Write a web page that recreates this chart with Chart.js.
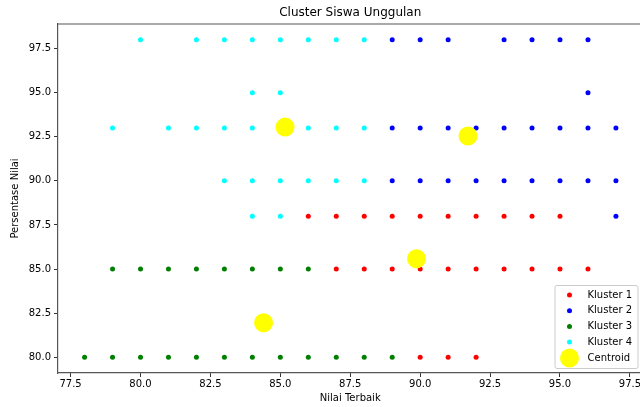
<!DOCTYPE html>
<html lang="en">
  <head>
    <meta charset="UTF-8" />
    <title>Cluster Siswa Unggulan</title>
    <script src="https://cdn.jsdelivr.net/npm/chart.js"></script>
    <style>
      body {
        margin: 0;
        padding: 0;
        background: white;
        overflow: hidden;
      }
      #chart {
        display: block;
      }
    </style>
  </head>
  <body>
    <!-- a bit wider than the window: the right spine falls just off the picture -->
    <canvas id="chart" width="652" height="407"></canvas>

    <script>
      // Kluster 1 (red)
      const k1X = [86, 87, 88, 89, 90, 91, 92, 93, 94, 95, 87, 88, 89, 90, 91, 92, 93, 94, 95, 96, 90, 91, 92];
      const k1Y = [88, 88, 88, 88, 88, 88, 88, 88, 88, 88, 85, 85, 85, 85, 85, 85, 85, 85, 85, 85, 80, 80, 80];

      // Kluster 2 (blue)
      const k2X = [89, 90, 91, 93, 94, 95, 96, 96, 89, 90, 91, 92, 93, 94, 95, 96, 97, 89, 90, 91, 92, 93, 94, 95, 96, 97, 97];
      const k2Y = [98, 98, 98, 98, 98, 98, 98, 95, 93, 93, 93, 93, 93, 93, 93, 93, 93, 90, 90, 90, 90, 90, 90, 90, 90, 90, 88];

      // Kluster 3 (green)
      const k3X = [79, 80, 81, 82, 83, 84, 85, 86, 78, 79, 80, 81, 82, 83, 84, 85, 86, 87, 88, 89];
      const k3Y = [85, 85, 85, 85, 85, 85, 85, 85, 80, 80, 80, 80, 80, 80, 80, 80, 80, 80, 80, 80];

      // Kluster 4 (cyan)
      const k4X = [80, 82, 83, 84, 85, 86, 87, 88, 84, 85, 79, 81, 82, 83, 84, 85, 86, 87, 88, 83, 84, 85, 86, 87, 88, 84, 85];
      const k4Y = [98, 98, 98, 98, 98, 98, 98, 98, 95, 95, 93, 93, 93, 93, 93, 93, 93, 93, 93, 90, 90, 90, 90, 90, 90, 88, 88];

      // centroids
      const centX = [85.17, 91.71, 89.87, 84.4];
      const centY = [93.05, 92.55, 85.58, 81.95];

      const xTicks = [77.5, 80, 82.5, 85, 87.5, 90, 92.5, 95, 97.5];
      const yTicks = [80, 82.5, 85, 87.5, 90, 92.5, 95, 97.5];

      const FONT = "'DejaVu Sans', sans-serif";

      function pts(xs, ys) {
        return xs.map((x, i) => ({ x: x, y: ys[i] }));
      }

      function series(label, xs, ys, color, r, order) {
        return {
          label: label,
          data: pts(xs, ys),
          backgroundColor: color,
          borderColor: color,
          borderWidth: 0,
          pointRadius: r,
          pointHoverRadius: r,
          order: order,
        };
      }

      // top / right spines (chart.js only draws the axis borders)
      const frame = {
        id: "frame",
        afterDraw(chart) {
          const { ctx, chartArea: a } = chart;
          ctx.save();
          ctx.strokeStyle = "#555555";
          ctx.lineWidth = 1.2;
          ctx.beginPath();
          ctx.moveTo(a.left, a.top);
          ctx.lineTo(a.right, a.top);
          ctx.lineTo(a.right, a.bottom);
          ctx.stroke();
          ctx.restore();
        },
      };

      // legend drawn inside the axes, lower right, like matplotlib
      const boxLegend = {
        id: "boxLegend",
        afterDraw(chart) {
          const ctx = chart.ctx;
          const area = chart.chartArea;
          const w = 83, h = 83;
          const left = area.right - 5 - w;
          const top = area.bottom - 5 - h;
          ctx.save();
          ctx.fillStyle = "rgba(255,255,255,0.8)";
          ctx.strokeStyle = "#cccccc";
          ctx.lineWidth = 1;
          ctx.beginPath();
          ctx.roundRect(left + 0.5, top + 0.5, w, h, 2);
          ctx.fill();
          ctx.stroke();
          const rows = [10, 25.7, 41.4, 57.1, 73];
          ctx.font = "10px " + FONT;
          ctx.textBaseline = "middle";
          chart.data.datasets.forEach((ds, i) => {
            const y = top + rows[i];
            ctx.fillStyle = ds.backgroundColor;
            ctx.beginPath();
            ctx.arc(left + 15, y, ds.pointRadius, 0, 2 * Math.PI);
            ctx.fill();
            ctx.fillStyle = "#000";
            ctx.fillText(ds.label, left + 33, y);
          });
          ctx.restore();
        },
      };

      const tickColor = "#333333";

      new Chart(document.getElementById("chart"), {
        type: "scatter",
        data: {
          datasets: [
            series("Kluster 1", k1X, k1Y, "#ff0000", 2.5, 5),
            series("Kluster 2", k2X, k2Y, "#0000ff", 2.5, 4),
            series("Kluster 3", k3X, k3Y, "#008000", 2.5, 3),
            series("Kluster 4", k4X, k4Y, "#00ffff", 2.5, 2),
            series("Centroid", centX, centY, "#ffff00", 9.5, 1),
          ],
        },
        options: {
          responsive: false,
          animation: false,
          devicePixelRatio: 1,
          layout: { padding: 0 },
          plugins: {
            legend: { display: false },
            tooltip: { enabled: false },
            title: {
              display: true,
              text: "Cluster Siswa Unggulan",
              color: "#000",
              fullSize: false,
              font: { family: FONT, size: 12, weight: "normal" },
              padding: { top: 6, bottom: 3.6 },
            },
          },
          scales: {
            x: {
              type: "linear",
              min: 77.05,
              max: 97.95,
              afterBuildTicks: (s) => {
                s.ticks = xTicks.map((v) => ({ value: v }));
              },
              afterFit: (s) => {
                s.height = 34;
              },
              ticks: {
                color: "#000",
                font: { family: FONT, size: 10 },
                padding: 1,
                maxRotation: 0,
                autoSkip: false,
                callback: (v) => Number(v).toFixed(1),
              },
              grid: {
                drawOnChartArea: false,
                drawTicks: true,
                tickLength: 4,
                color: tickColor,
              },
              border: { display: true, color: "#555555", width: 1.2 },
              title: {
                display: true,
                text: "Nilai Terbaik",
                color: "#000",
                font: { family: FONT, size: 10 },
                padding: { top: 0, bottom: 3 },
              },
            },
            y: {
              type: "linear",
              min: 79.1,
              max: 98.9,
              afterBuildTicks: (s) => {
                s.ticks = yTicks.map((v) => ({ value: v }));
              },
              afterFit: (s) => {
                s.width = 58;
              },
              ticks: {
                color: "#000",
                font: { family: FONT, size: 10 },
                padding: 3,
                autoSkip: false,
                callback: (v) => Number(v).toFixed(1),
              },
              grid: {
                drawOnChartArea: false,
                drawTicks: true,
                tickLength: 4,
                color: tickColor,
              },
              border: { display: true, color: "#555555", width: 1.2 },
              title: {
                display: true,
                text: "Persentase Nilai",
                color: "#000",
                font: { family: FONT, size: 10 },
                padding: { top: 9, bottom: 0 },
              },
            },
          },
        },
        plugins: [frame, boxLegend],
      });
    </script>
  </body>
</html>
